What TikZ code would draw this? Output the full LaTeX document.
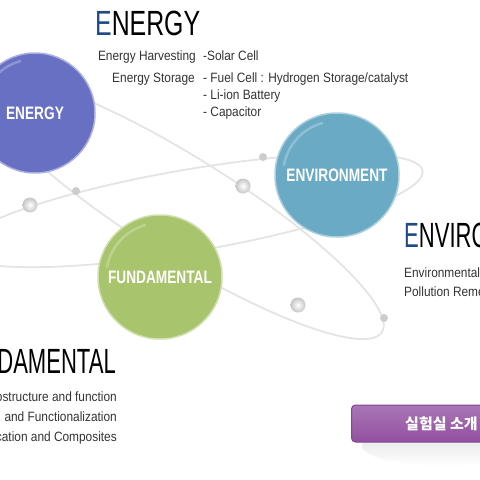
\documentclass[tikz,border=0pt]{standalone}
\usepackage{fontspec}
\setmainfont{Liberation Sans}
\newfontfamily\headfont{Liberation Sans}[FakeStretch=0.71]
\newfontfamily\headtight{Liberation Sans}[FakeStretch=0.63]
\newfontfamily\hubfont{Liberation Sans}[FakeStretch=0.76]
\newfontfamily\subfont{Liberation Sans}[FakeStretch=0.88]
\newfontfamily\korfont{Noto Sans CJK KR}
\definecolor{energyc}{RGB}{104,112,196}
\definecolor{envc}{RGB}{106,170,196}
\definecolor{fundc}{RGB}{168,196,108}
\definecolor{navy}{RGB}{30,75,134}
\definecolor{textc}{RGB}{51,51,51}
\definecolor{orbitc}{RGB}{228,228,228}
\definecolor{btntop}{RGB}{170,118,182}
\definecolor{btnbot}{RGB}{146,80,160}
\definecolor{btnedge}{RGB}{128,70,146}

\begin{document}
\begin{tikzpicture}[x=1pt, y=-1pt, every node/.style={inner sep=0pt},
      hub/.style={circle, minimum size=124pt, fill=#1, draw=#1!55!white,
                  line width=1.5pt, text=white,
                  font=\hubfont\bfseries\fontsize{18}{18}\selectfont},
      head/.style={font=\headfont\fontsize{35}{35}\selectfont, text=black},
      headnarrow/.style={font=\headtight\fontsize{35}{35}\selectfont, text=black},
      sub/.style={font=\subfont\fontsize{13.5}{14}\selectfont, text=textc},
      orbit/.style={draw=orbitc, line width=1.8pt},
      pearl/.style={circle, minimum size=15pt, inner color=white, outer color=gray!45},
      dot/.style={circle, minimum size=8pt, fill=gray!40},
      btn/.style={rounded corners=4pt, draw=btnedge, line width=1pt,
                  top color=btntop, bottom color=btnbot,
                  minimum width=150pt, minimum height=37pt}]
    \useasboundingbox (0,0) rectangle (480,480);
    \clip (0,0) rectangle (480,480);
    % orbits behind the spheres
    \draw[orbit, rotate around={9.7:(190,210.5)}] (190,210.5) ellipse (236 and 41);
    \draw[orbit, rotate around={-32:(182.7,207.5)}] (182.7,207.5) ellipse (235 and 50);
    \node[pearl] (pearl1) at (30,205)  {};
    \node[pearl] (pearl2) at (243,186) {};
    \node[pearl] (pearl3) at (298,305) {};
    \node[dot]   (dot1)   at (76,191)  {};
    \node[dot]   (dot2)   at (263,157) {};
    \node[dot]   (dot3)   at (384,318) {};
    % spheres
    \node[hub=energyc, minimum size=120pt] (energy) at (35,113)  {ENERGY};
    \node[hub=envc]                        (env)    at (337,175) {ENVIRONMENT};
    \node[hub=fundc]                       (fund)   at (160,277) {FUNDAMENTAL};
    \foreach \c in {energy, env, fund}
      \draw[white, opacity=.25, line width=2.5pt] (\c.center) ++(190:54) arc (190:255:54);
    % energy text
    \node[head, anchor=base west] (energyhead) at (95,35) {{\color{navy}E}NERGY};
    \node[sub, anchor=base east] (harvest) at (196,60) {Energy Harvesting};
    \node[sub, anchor=base west] (solar)   at (203,60) {-Solar Cell};
    \node[sub, anchor=base east] (storage) at (195,82) {Energy Storage};
    \node[sub, anchor=base west] (fuel)    at (203,82) {- Fuel Cell : Hydrogen Storage/catalyst};
    \node[sub, anchor=base west] (liion)   at (203,99) {- Li-ion Battery};
    \node[sub, anchor=base west] (capac)   at (203,116) {- Capacitor};
    % environment text
    \node[headnarrow, anchor=base west] (envhead) at (404,247) {{\color{navy}E}NVIRONMENT};
    \node[sub, anchor=base west] (envmon)  at (404,277) {Environmental Monitoring};
    \node[sub, anchor=base west] (envrem)  at (404,296) {Pollution Remediation};
    % fundamental text
    \node[headnarrow, anchor=base east] (fundhead) at (116,373) {{\color{navy}F}UNDAMENTAL};
    \node[sub, anchor=base east] (nano)    at (117,401) {Nanostructure and function};
    \node[sub, anchor=base east] (synth)   at (117,421) {Synthesis\hspace{6pt} and Functionalization};
    \node[sub, anchor=base east] (hybrid)  at (117,441) {Fabrication and Composites};
    % lab button
    \shade[top color=gray!25, bottom color=white] (445,446) ellipse (83 and 20);
    \node[btn, anchor=west] (labbtn) at (351,423.5) {};
    \node[anchor=west, text=white, font=\korfont\bfseries\fontsize{15}{15}\selectfont]
      (labtext) at (405,424) {실험실 소개};
\end{tikzpicture}
\end{document}
